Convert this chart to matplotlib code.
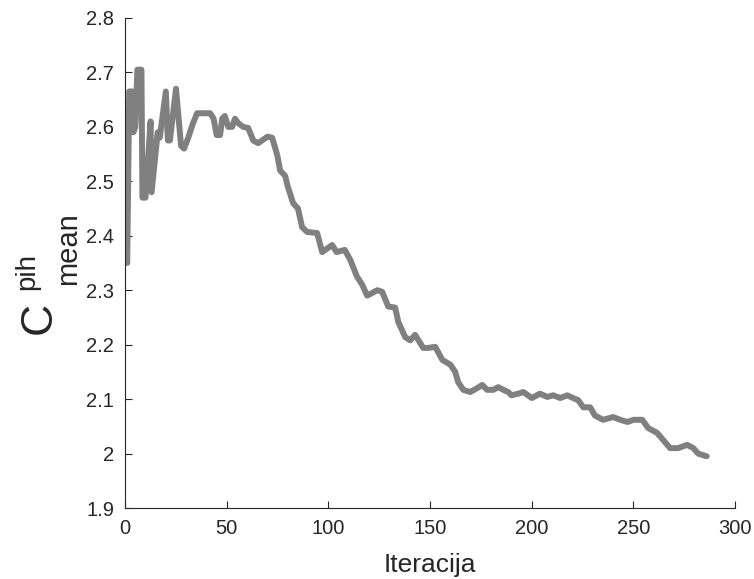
import matplotlib
matplotlib.use("Agg")
import matplotlib.pyplot as plt
from matplotlib.ticker import FormatStrFormatter

# ── Data ──────────────────────────────────────────────────────────────────────
iteracija = [1, 2, 3.5, 4, 5, 6, 8, 8.5, 10, 12.5, 13, 16, 17, 20, 21, 22, 25,
             27.5, 29, 31, 33.4, 35.4, 41.8, 43.5, 45, 46.7, 47.7, 49, 50.7,
             52.6, 54, 55.6, 58, 60.5, 63, 65.4, 70, 72.3, 74.8, 76.2, 78.7,
             80, 82.6, 85, 87, 89.5, 94.4, 96.9, 101.8, 104, 108, 110.7, 114,
             116.6, 119, 124, 126.4, 129.4, 132.8, 134.3, 137.7, 140.2, 142.6,
             146.6, 149, 152.5, 156, 160, 162.3, 163.8, 166.3, 169.7, 173,
             175.6, 178, 181, 183.5, 186, 188.4, 190, 193.3, 195.8, 200, 204,
             207.6, 210.5, 214, 217.4, 220.3, 222.8, 225.3, 228.7, 231, 235,
             240, 243.5, 247, 250, 254.3, 257.2, 261.6, 264.6, 268, 272, 276.4,
             279.4, 281.8, 284.3, 286]
c_mean = [2.35, 2.665, 2.665, 2.59, 2.60, 2.705, 2.705, 2.47, 2.47, 2.61, 2.48,
          2.59, 2.58, 2.665, 2.575, 2.575, 2.67, 2.565, 2.56, 2.58, 2.607,
          2.625, 2.625, 2.615, 2.585, 2.585, 2.615, 2.62, 2.60, 2.60, 2.615,
          2.607, 2.60, 2.598, 2.575, 2.57, 2.582, 2.58, 2.548, 2.52, 2.51,
          2.49, 2.46, 2.45, 2.416, 2.407, 2.405, 2.37, 2.383, 2.37, 2.374,
          2.356, 2.325, 2.31, 2.29, 2.30, 2.297, 2.27, 2.268, 2.242, 2.214,
          2.208, 2.218, 2.194, 2.194, 2.196, 2.172, 2.163, 2.15, 2.131, 2.117,
          2.113, 2.12, 2.126, 2.117, 2.117, 2.122, 2.117, 2.113, 2.107, 2.11,
          2.113, 2.102, 2.11, 2.104, 2.107, 2.102, 2.107, 2.102, 2.098, 2.085,
          2.085, 2.07, 2.062, 2.067, 2.062, 2.058, 2.062, 2.062, 2.047, 2.038,
          2.025, 2.01, 2.01, 2.016, 2.01, 2.0, 1.997, 1.995]

x_ticks = [0, 50, 100, 150, 200, 250, 300]
y_ticks = [1.9, 2.0, 2.1, 2.2, 2.3, 2.4, 2.5, 2.6, 2.7, 2.8]

# ── Plot (MATLAB-like look) ──────────────────────────────────────────────────
plt.rcParams["font.family"] = ["Liberation Sans", "DejaVu Sans"]
TXT = "#262626"
W, H = 754, 579

fig = plt.figure(figsize=(W / 100, H / 100), dpi=100)
ax = fig.add_axes([0.166, 0.1226, 0.809, 0.8464])

ax.plot(iteracija, c_mean, color="#808080", linewidth=4.3,
        solid_joinstyle="round", solid_capstyle="round")

ax.set_xlim(0, 300)
ax.set_ylim(1.9, 2.8)
ax.set_xticks(x_ticks)
ax.set_yticks(y_ticks)
ax.yaxis.set_major_formatter(FormatStrFormatter("%g"))

ax.spines["top"].set_visible(False)
ax.spines["right"].set_visible(False)
for s in ("left", "bottom"):
    ax.spines[s].set_color(TXT)
    ax.spines[s].set_linewidth(0.8)
ax.tick_params(direction="in", length=5, width=0.8, colors=TXT,
               labelsize=14.5, pad=8)

ax.set_xlabel("Iteracija", fontsize=19, color=TXT, labelpad=11)

# y label C^pih_mean built from three rotated pieces (bigger scripts than mathtext)
def label_piece(s, x_px, y_px, size):
    fig.text(x_px / W, 1 - y_px / H, s, fontsize=size, color=TXT,
             rotation=90, rotation_mode="anchor", ha="left", va="baseline")

label_piece("C", 51, 334, 32)
label_piece("pih", 34, 290, 20)
label_piece("mean", 76, 285, 21)

fig.savefig("out.png", dpi=100, facecolor="white")
plt.close(fig)
